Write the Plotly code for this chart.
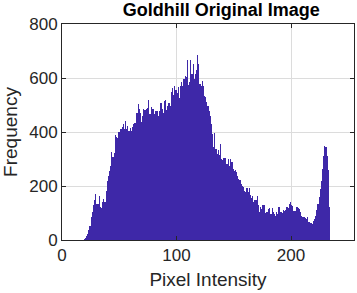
import plotly.graph_objects as go

start_bin = 19
counts = [
    4, 8, 14, 22, 37, 53, 84, 102, 131, 148,            # 19-28
    170, 133, 135, 164, 123, 120, 140, 153, 140, 183,   # 29-38
    217, 238, 257, 273, 327, 306, 321, 390, 383, 376,   # 39-48
    399, 399, 411, 420, 430, 411, 441, 411, 423, 405,   # 49-58
    416, 405, 420, 428, 435, 433, 469, 505, 485, 470,   # 59-68
    436, 460, 485, 483, 485, 490, 518, 465, 465, 494,   # 69-78
    485, 465, 479, 478, 477, 460, 479, 507, 485, 470,   # 79-88
    516, 518, 483, 495, 507, 495, 547, 562, 537, 572,   # 89-98
    557, 544, 568, 526, 572, 584, 569, 596, 609, 602,   # 99-108
    667, 574, 584, 667, 614, 651, 596, 615, 631, 685,   # 109-118
    652, 578, 572, 590, 572, 535, 528, 510, 498, 479,   # 119-128
    458, 430, 393, 346, 396, 337, 319, 333, 315, 356,   # 129-138
    300, 296, 304, 302, 281, 281, 300, 273, 300, 288,   # 139-148
    263, 257, 259, 251, 236, 226, 222, 207, 201, 195,   # 149-158
    183, 177, 191, 177, 191, 168, 156, 164, 140, 149,   # 159-168
    149, 164, 130, 102, 121, 115, 130, 130, 100, 105,   # 169-178
    102, 115, 117, 96, 120, 102, 96, 90, 102, 96,       # 179-188
    123, 105, 102, 100, 112, 109, 111, 121, 117, 133,   # 189-198
    140, 130, 127, 109, 109, 121, 121, 117, 115, 102,   # 199-208
    90, 86, 84, 81, 78, 84, 65, 68, 62, 59,             # 209-218
    72, 78, 90, 111, 133, 158, 189, 220, 263, 312,      # 219-228
    349, 346, 312, 260, 123,                            # 229-233
]
bins = list(range(start_bin, start_bin + len(counts)))

x_ticks = [0, 100, 200]
y_ticks = [0, 200, 400, 600, 800]

bar_color = "#3e28a8"
font_family = "Liberation Sans, Arial, sans-serif"

fig = go.Figure(
    go.Bar(
        x=bins,
        y=counts,
        width=1,
        offset=0,
        marker=dict(color=bar_color, line=dict(width=0)),
        hoverinfo="skip",
    )
)

axis_common = dict(
    showline=True,
    linecolor="#262626",
    linewidth=1,
    mirror="ticks",
    ticks="inside",
    ticklen=4,
    tickcolor="#262626",
    showgrid=True,
    gridcolor="#dcdcdc",
    gridwidth=1,
    zeroline=False,
    automargin=False,
    tickfont=dict(size=17, color="#262626", family=font_family),
)

fig.update_layout(
    width=357,
    height=293,
    margin=dict(l=62, r=3, t=24, b=53, autoexpand=False),
    paper_bgcolor="white",
    plot_bgcolor="white",
    bargap=0,
    showlegend=False,
    font=dict(family=font_family, color="#262626"),
    title=dict(
        text="<b>Goldhill Original Image</b>",
        x=0.62,
        xanchor="center",
        y=0.967,
        yanchor="middle",
        font=dict(size=18, color="black", family=font_family),
    ),
    xaxis=dict(
        range=[0, 255],
        tickvals=x_ticks,
        title=dict(text="Pixel Intensity", font=dict(size=19, color="#262626"), standoff=8),
        **axis_common,
    ),
    yaxis=dict(
        range=[0, 800],
        tickvals=y_ticks,
        title=dict(text="Frequency", font=dict(size=19, color="#262626"), standoff=6),
        **axis_common,
    ),
)

fig.write_html(
    "out.html",
    config={"displayModeBar": False, "staticPlot": True},
    post_script="document.body.style.margin='0px';document.body.style.overflow='hidden';",
)
